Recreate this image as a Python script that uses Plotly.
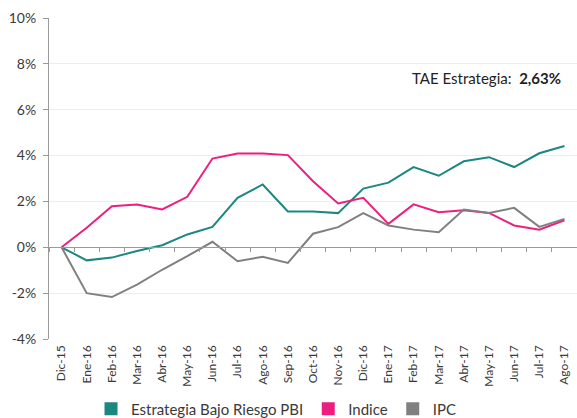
import plotly.graph_objects as go

months = ["Dic-15", "Ene-16", "Feb-16", "Mar-16", "Abr-16", "May-16", "Jun-16", "Jul-16",
          "Ago-16", "Sep-16", "Oct-16", "Nov-16", "Dic-16", "Ene-17", "Feb-17", "Mar-17",
          "Abr-17", "May-17", "Jun-17", "Jul-17", "Ago-17"]
estrategia = [0, -0.57, -0.45, -0.16, 0.09, 0.56, 0.89, 2.16, 2.74, 1.56, 1.56, 1.49,
              2.56, 2.82, 3.50, 3.12, 3.75, 3.93, 3.50, 4.10, 4.42]
indice = [0, 0.85, 1.79, 1.87, 1.65, 2.20, 3.87, 4.09, 4.09, 4.02, 2.88, 1.91,
          2.16, 1.02, 1.87, 1.53, 1.62, 1.50, 0.95, 0.77, 1.18]
ipc = [0, -2.00, -2.17, -1.63, -0.98, -0.39, 0.24, -0.61, -0.41, -0.68, 0.59, 0.88,
       1.49, 0.95, 0.77, 0.66, 1.65, 1.50, 1.72, 0.89, 1.24]
ytickvals = [-4, -2, 0, 2, 4, 6, 8, 10]
yticktext = ["-4%", "-2%", "0%", "2%", "4%", "6%", "8%", "10%"]

names = ["Estrategia Bajo Riesgo PBI", "Indice", "IPC"]
colors = ["#1b8780", "#ec1f80", "#808080"]
series = [estrategia, indice, ipc]

FONT = "Lato"
fig = go.Figure()

# invisible helper trace to carry the zero-line category axis (ticks between categories)
fig.add_trace(go.Scatter(x=months, y=[0] * len(months), xaxis="x2", mode="lines",
                         line=dict(width=0), hoverinfo="skip", showlegend=False))

for name, col, vals in zip(names, colors, series):
    fig.add_trace(go.Scatter(x=months, y=vals, mode="lines", name=name,
                             line=dict(color=col, width=2), showlegend=False))
for name, col in zip(names, colors):
    fig.add_trace(go.Scatter(x=[None], y=[None], mode="markers", name=name,
                             marker=dict(symbol="square", size=13, color=col)))

ymin, ymax = -4, 10
top, bottom = 18, 339
plot_h = bottom - top
fig.update_layout(
    width=577, height=418,
    margin=dict(l=49, r=0, t=top, b=418 - bottom, autoexpand=False),
    paper_bgcolor="white", plot_bgcolor="white",
    font=dict(family=FONT, color="#3a3a3a"),
    xaxis=dict(type="category", categoryorder="array", categoryarray=months,
               range=[-0.5, len(months) - 0.5], tickangle=-90, showgrid=False,
               showline=False, ticks="", tickfont=dict(size=12, color="#3a3a3a"),
               ticklabelstandoff=3, automargin=False),
    xaxis2=dict(type="category", categoryorder="array", categoryarray=months,
                range=[-0.5, len(months) - 0.5], overlaying="x", anchor="free",
                position=(0 - ymin) / (ymax - ymin), side="bottom",
                showline=True, linecolor="#9a9a9a", linewidth=1,
                ticks="outside", tickson="boundaries", ticklen=4, tickcolor="#9a9a9a",
                showticklabels=False, showgrid=False),
    yaxis=dict(range=[ymin, ymax], tickvals=ytickvals, ticktext=yticktext,
               showgrid=True, gridcolor="#ededed", gridwidth=1, zeroline=False,
               showline=True, linecolor="#9a9a9a", linewidth=1,
               ticks="outside", ticklen=5, tickcolor="#9a9a9a",
               tickfont=dict(size=14, color="#3a3a3a"), ticklabelstandoff=4,
               automargin=False),
    legend=dict(orientation="h", x=(276 - 49) / 528, xanchor="center",
                y=-(409 - bottom) / plot_h, yanchor="middle",
                font=dict(size=15, color="#3a3a3a"), itemwidth=30,
                tracegroupgap=0),
    annotations=[dict(text="TAE Estrategia:  <b>2,63%</b>", xref="paper", yref="paper",
                      x=(563 - 49) / 528, y=(bottom - 78) / plot_h,
                      xanchor="right", yanchor="middle", showarrow=False,
                      font=dict(size=15, color="#222222"))],
)

fig.write_html("out.html", config={"displayModeBar": False},
               post_script="document.body.style.margin='0';")
